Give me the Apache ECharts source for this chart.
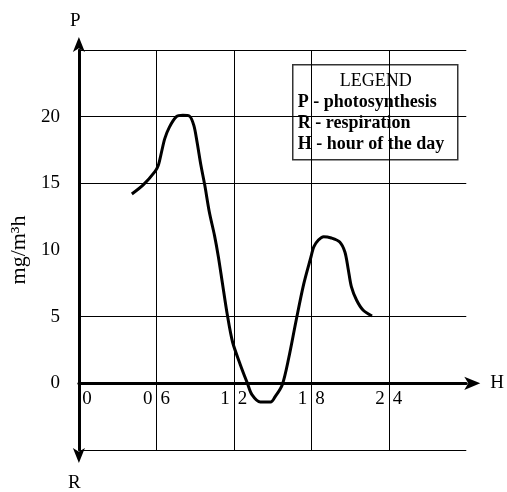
<!DOCTYPE html>
<html>
<head>
<meta charset="utf-8">
<script src="https://cdn.jsdelivr.net/npm/echarts@6/dist/echarts.min.js"></script>
<style>
  html, body { margin: 0; padding: 0; background: #ffffff; }
  #chart { width: 507px; height: 492px; }
</style>
</head>
<body>
<div id="chart"></div>
<script>
// hour of the day
var hours = [4.1, 5.0, 5.9, 6.15, 6.4, 6.65, 7.0, 7.55, 8.05, 8.55, 8.9, 9.15, 9.45, 9.75,
  10.1, 10.5, 10.8, 11.1, 11.5, 11.9, 12.5, 13.05, 13.4, 14.05, 14.85, 15.2, 15.75,
  16.25, 16.8, 17.4, 17.95, 18.2, 18.55, 18.95, 19.55, 20.2, 20.6, 20.85, 21.1, 21.5,
  22.0, 22.7];
// mg/m3h (positive = photosynthesis, negative = respiration)
var values = [14.2, 14.9, 15.9, 16.35, 17.35, 18.35, 19.2, 20.0, 20.1, 20.05, 19.35, 18.1,
  16.35, 14.85, 12.85, 11.1, 9.5, 7.6, 5.1, 3.1, 1.4, 0, -0.85, -1.4, -1.4, -1.0, -0.1,
  1.9, 4.6, 7.4, 9.4, 10.25, 10.75, 11.0, 10.9, 10.6, 9.85, 8.6, 7.25, 6.25, 5.5, 5.05];

var xTicks = [0, 6, 12, 18, 24];
var yTicks = [0, 5, 10, 15, 20];
var hGrid = [-5, 5, 15, 20, 25];
var vGrid = [6, 12, 18, 24];
var legendLines = ['P - photosynthesis', 'R - respiration', 'H - hour of the day'];

var FONT = '"Liberation Serif", "DejaVu Serif", serif';
var GRID_TOP = 50, GRID_BOTTOM = 42, Y_MIN = -5, Y_MAX = 25;
var plotH = 492 - GRID_TOP - GRID_BOTTOM;
// lift the x axis from the grid bottom up to the value 0
var zeroLift = -plotH * (0 - Y_MIN) / (Y_MAX - Y_MIN);

var points = hours.map(function (h, i) { return [h, values[i]]; });

var gridMarks = [];
hGrid.forEach(function (v) { gridMarks.push({ yAxis: v }); });
vGrid.forEach(function (v) { gridMarks.push({ xAxis: v }); });

var chart = echarts.init(document.getElementById('chart'));
chart.setOption({
  animation: false,
  backgroundColor: '#ffffff',
  grid: { left: 75, right: 40, top: GRID_TOP, bottom: GRID_BOTTOM },
  xAxis: {
    type: 'value',
    min: 0,
    max: 30,
    interval: 6,
    offset: zeroLift,
    name: 'H',
    nameLocation: 'end',
    nameGap: 24,
    nameTextStyle: { fontFamily: FONT, fontSize: 19, color: '#000', verticalAlign: 'middle' },
    axisLine: {
      show: true,
      onZero: false,
      lineStyle: { color: '#000', width: 3 },
      symbol: ['none', 'arrow'],
      symbolSize: [10, 16],
      symbolOffset: [0, 14]
    },
    axisTick: { show: false },
    splitLine: { show: false },
    axisLabel: {
      margin: 6,
      fontFamily: FONT,
      fontSize: 19,
      color: '#000',
      formatter: function (v) {
        if (xTicks.indexOf(v) < 0) return '';
        if (v === 0) return '{z|0}';
        var s = v < 10 ? '0' + v : String(v);
        return '{d|' + s[0] + '}{s|}{d|' + s[1] + '}';
      },
      rich: {
        z: { fontFamily: FONT, fontSize: 19, color: '#000', padding: [0, 0, 0, 16] },
        d: { fontFamily: FONT, fontSize: 19, color: '#000' },
        s: { width: 8 }
      }
    }
  },
  yAxis: {
    type: 'value',
    min: Y_MIN,
    max: Y_MAX,
    interval: 5,
    name: 'mg/m³h',
    nameLocation: 'middle',
    nameGap: 43,
    nameTextStyle: { fontFamily: FONT, fontSize: 22, color: '#000' },
    axisLine: {
      show: true,
      lineStyle: { color: '#000', width: 3 },
      symbol: ['arrow', 'arrow'],
      symbolSize: [9, 15],
      symbolOffset: [-13, 13]
    },
    axisTick: { show: false },
    splitLine: { show: false },
    axisLabel: {
      margin: 19,
      fontFamily: FONT,
      fontSize: 19,
      color: '#000',
      formatter: function (v) { return yTicks.indexOf(v) < 0 ? '' : String(v); }
    }
  },
  series: [{
    type: 'line',
    data: points,
    smooth: 0.3,
    showSymbol: false,
    lineStyle: { color: '#000', width: 3 },
    z: 5,
    markLine: {
      silent: true,
      symbol: 'none',
      label: { show: false },
      lineStyle: { color: '#000', width: 1, type: 'solid' },
      emphasis: { disabled: true },
      data: gridMarks
    }
  }],
  graphic: [
    { type: 'text', left: 70, top: 12, z: 50,
      style: { text: 'P', fontFamily: FONT, fontSize: 19, fill: '#000' } },
    { type: 'text', left: 68, top: 474, z: 50,
      style: { text: 'R', fontFamily: FONT, fontSize: 19, fill: '#000' } },
    { type: 'group', left: 292, top: 64, z: 100,
      children: [
        { type: 'rect', shape: { x: 0, y: 0, width: 165, height: 95 },
          style: { fill: '#fff', stroke: '#333', lineWidth: 1.5 } },
        { type: 'text', x: 83, y: 17, style: { text: 'LEGEND', fontFamily: FONT, fontSize: 18,
          fill: '#000', align: 'center', verticalAlign: 'middle' } },
        { type: 'text', x: 5, y: 38, style: { text: legendLines[0], fontFamily: FONT, fontSize: 18,
          fontWeight: 'bold', fill: '#000', verticalAlign: 'middle' } },
        { type: 'text', x: 5, y: 59, style: { text: legendLines[1], fontFamily: FONT, fontSize: 18,
          fontWeight: 'bold', fill: '#000', verticalAlign: 'middle' } },
        { type: 'text', x: 5, y: 80, style: { text: legendLines[2], fontFamily: FONT, fontSize: 18,
          fontWeight: 'bold', fill: '#000', verticalAlign: 'middle' } }
      ]
    }
  ]
});
</script>
</body>
</html>
